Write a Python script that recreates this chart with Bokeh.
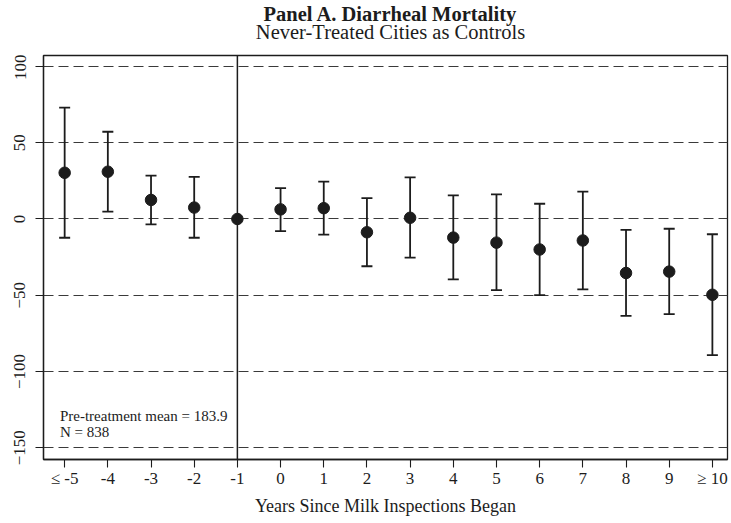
from bokeh.plotting import figure
from bokeh.layouts import column
from bokeh.models import (ColumnDataSource, Whisker, FixedTicker, Span, Label)
from bokeh.embed import file_html
from bokeh.resources import INLINE

# ---- data ----
years = [-5, -4, -3, -2, -1, 0, 1, 2, 3, 4, 5, 6, 7, 8, 9, 10]
tick_labels = ["≤ -5", "-4", "-3", "-2", "-1", "0", "1", "2", "3", "4", "5", "6", "7", "8", "9", "≥ 10"]
estimate = [30.3, 31.0, 12.5, 7.5, 0.0, 6.3, 7.1, -8.7, 0.8, -12.2, -15.5, -20.0, -14.1, -35.4, -34.5, -49.7]
ci_upper = [73.0, 57.2, 28.5, 27.6, 0.0, 20.3, 24.5, 13.7, 27.3, 15.5, 16.1, 10.0, 17.9, -7.1, -6.4, -10.0]
ci_lower = [-12.3, 4.8, -3.5, -12.3, 0.0, -8.0, -10.2, -31.0, -25.3, -39.6, -46.6, -49.9, -46.2, -63.5, -62.4, -89.3]
y_ticks = [-150, -100, -50, 0, 50, 100]
title = "Panel A. Diarrheal Mortality"
subtitle = "Never-Treated Cities as Controls"
x_title = "Years Since Milk Inspections Began"
note_lines = ["Pre-treatment mean = 183.9", "N = 838"]

FONT = "Liberation Serif"
INK = "#1c1c1c"

W = 731
B_LEFT, B_RIGHT = 43, 4
HEAD_H = 54          # title strip height
PLOT_H = 523 - HEAD_H

# ---- title strip (its own small figure, no axes; its frame is aligned
#      with the main plot's frame by the column layout) ----
head = figure(width=W, height=HEAD_H, output_backend="svg", toolbar_location=None,
              x_range=(B_LEFT, W - B_RIGHT), y_range=(0, HEAD_H),
              min_border_left=B_LEFT, min_border_right=B_RIGHT,
              min_border_top=0, min_border_bottom=0,
              x_axis_location=None, y_axis_location=None)
head.outline_line_color = None
head.grid.grid_line_color = None
head.add_layout(Label(x=390, y=HEAD_H - 13.5, text=title, text_font=FONT,
                      text_font_size="20.5px", text_font_style="bold",
                      text_align="center", text_baseline="alphabetic", text_color=INK))
head.add_layout(Label(x=390, y=HEAD_H - 31, text=subtitle, text_font=FONT,
                      text_font_size="20.5px", text_align="center",
                      text_baseline="alphabetic", text_color=INK))

# ---- main plot ----
src = ColumnDataSource(dict(x=years, y=estimate))
keep = [i for i in range(len(years)) if ci_upper[i] != ci_lower[i]]
bars = ColumnDataSource(dict(x=[years[i] for i in keep],
                             up=[ci_upper[i] for i in keep],
                             lo=[ci_lower[i] for i in keep]))

p = figure(width=W, height=PLOT_H, output_backend="svg", toolbar_location=None,
           x_range=(-5.49, 10.35), y_range=(-157.7, 107.2),
           min_border_left=B_LEFT, min_border_right=B_RIGHT,
           min_border_top=1, min_border_bottom=64)

p.outline_line_color = INK
p.outline_line_width = 1.3
p.background_fill_color = "white"
p.border_fill_color = "white"

p.xgrid.grid_line_color = None
p.ygrid.ticker = FixedTicker(ticks=y_ticks)
p.ygrid.grid_line_color = "#3a3a3a"
p.ygrid.grid_line_dash = "10 5"
p.ygrid.grid_line_width = 1.1

for ax in (p.xaxis[0], p.yaxis[0]):
    ax.axis_line_color = INK
    ax.axis_line_width = 1.3
    ax.major_tick_line_color = INK
    ax.major_tick_line_width = 1.1
    ax.major_tick_out = 8
    ax.major_tick_in = 0
    ax.minor_tick_line_color = None
    ax.major_label_text_font = FONT
    ax.major_label_text_font_size = "17px"
    ax.major_label_text_color = INK

p.xaxis.ticker = FixedTicker(ticks=years)
p.xaxis.major_label_overrides = {y: t for y, t in zip(years, tick_labels)}
p.xaxis.axis_label = x_title
p.xaxis.axis_label_text_font = FONT
p.xaxis.axis_label_text_font_size = "18px"
p.xaxis.axis_label_text_font_style = "normal"
p.xaxis.axis_label_text_color = INK
p.xaxis.major_label_standoff = 1
p.xaxis.axis_label_standoff = 5

p.yaxis.ticker = FixedTicker(ticks=y_ticks)
p.yaxis.major_label_orientation = "parallel"
p.yaxis.major_label_standoff = 10

p.add_layout(Span(location=-1, dimension="height", line_color=INK, line_width=1.5))

w = Whisker(source=bars, base="x", upper="up", lower="lo", line_color=INK, line_width=1.8)
for hd in (w.upper_head, w.lower_head):
    hd.size = 11
    hd.line_color = INK
    hd.line_width = 1.8
p.add_layout(w)

p.scatter("x", "y", source=src, size=11.5, color=INK)

p.add_layout(Label(x=-5.11, y=-129.5, text=note_lines[0], text_font=FONT,
                   text_font_size="15px", text_baseline="middle", text_color=INK))
p.add_layout(Label(x=-5.11, y=-139.5, text=note_lines[1], text_font=FONT,
                   text_font_size="15px", text_baseline="middle", text_color=INK))

layout = column(head, p, spacing=0)
open("out.html", "w").write(file_html(layout, INLINE))
